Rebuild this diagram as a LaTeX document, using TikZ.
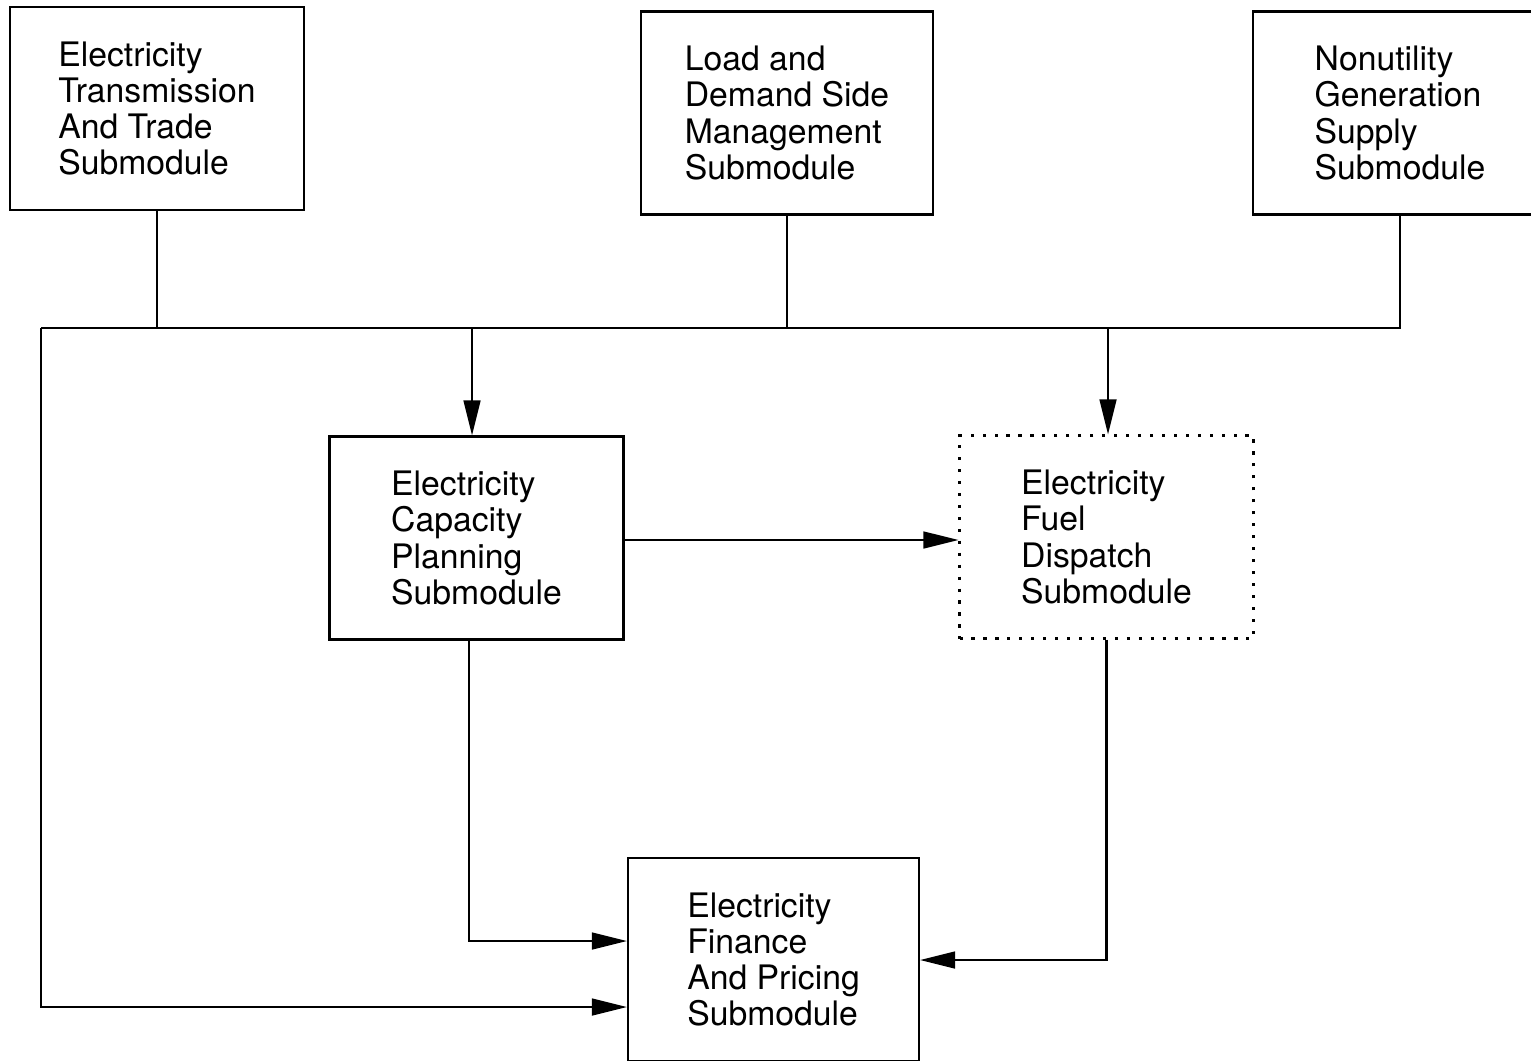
\documentclass[tikz,border=0pt]{standalone}
\usepackage{fontspec}
\setmainfont{TeX Gyre Heros}
\usetikzlibrary{arrows.meta,positioning}

\begin{document}
\begin{tikzpicture}[
        line width=0.6pt,
        every node/.style={font=\fontsize{9.6}{10.25}\selectfont},
        submodule/.style={
            draw,
            minimum width=2.94cm,
            minimum height=2.03cm,
            inner sep=0pt,
            align=left
        },
        dispatchbox/.style={
            submodule,
            dash pattern=on 0.9pt off 2.5pt
        },
        wire/.style={line width=0.6pt},
        flow/.style={wire, -{Triangle[length=10pt,width=4.8pt]}}
    ]
    \useasboundingbox (0,0) rectangle (15.31,-10.60);

    % top row
    \node[submodule] (trade) at (1.57,-1.085)
        {Electricity\\Transmission\hspace{0.12cm}\\And Trade\\Submodule};
    \node[submodule, minimum width=2.92cm] (load) at (7.87,-1.13)
        {Load and\\Demand Side\\Management\\Submodule};
    \node[submodule] (nonutil) at (14.00,-1.13)
        {Nonutility\\Generation\\Supply\\Submodule};

    % middle row
    \node[submodule] (capacity) at (4.765,-5.38)
        {Electricity\\Capacity\\Planning\\Submodule};
    \node[dispatchbox] (dispatch) at (11.065,-5.37)
        {Electricity\\Fuel\\Dispatch\\Submodule};

    % bottom
    \node[submodule, minimum width=2.91cm] (finance) at (7.735,-9.595)
        {Electricity\\Finance\\And Pricing\\Submodule};

    % bus
    \coordinate (busL) at (0.41,-3.28);
    \coordinate (busR) at (13.98,-3.28);

    \draw[wire] (trade.south) -- (trade.south |- busL);
    \draw[wire] (load.south) -- (load.south |- busL);
    \draw[wire] (nonutil.south) |- (busL);

    \draw[flow] ([xshift=-0.45mm]capacity.north |- busL) -- ([xshift=-0.45mm]capacity.north);
    \draw[flow] ([xshift=0.15mm]dispatch.north |- busL) -- ([xshift=0.15mm]dispatch.north);

    \draw[flow] ([yshift=-0.2mm]capacity.east) -- ([yshift=-0.2mm]capacity.east -| dispatch.west);

    \draw[flow] ([xshift=-0.75mm]capacity.south) |- ([yshift=1.85mm]finance.west);
    \draw[flow] (dispatch.south) |- ([yshift=-0.05mm]finance.east);
    \draw[flow] (busL) |- ([yshift=-4.75mm]finance.west);
\end{tikzpicture}
\end{document}
